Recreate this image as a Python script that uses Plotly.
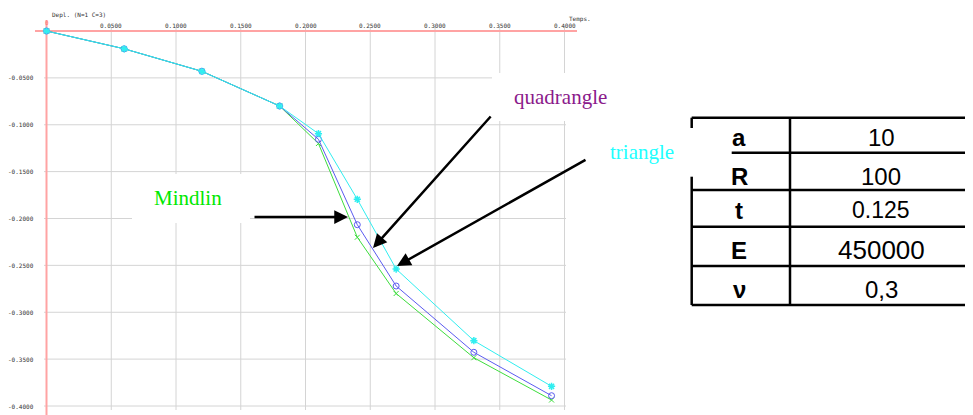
import plotly.graph_objects as go

# ---------------- data ----------------
temps = [0.0, 0.06, 0.12, 0.18, 0.21, 0.24, 0.27, 0.33, 0.39]
mindlin = [0.0, -0.019, -0.043, -0.080, -0.120, -0.220, -0.280, -0.3485, -0.3936]
quadrangle = [0.0, -0.019, -0.043, -0.080, -0.1155, -0.2066, -0.272, -0.3427, -0.389]
triangle = [0.0, -0.019, -0.043, -0.080, -0.1095, -0.1795, -0.2539, -0.3303, -0.379]

x_ticks = [0.05, 0.10, 0.15, 0.20, 0.25, 0.30, 0.35, 0.40]
x_tick_labels = ["0.0500", "0.1000", "0.1500", "0.2000", "0.2500", "0.3000", "0.3500", "0.4000"]
y_ticks = [-0.05, -0.10, -0.15, -0.20, -0.25, -0.30, -0.35, -0.40]
y_tick_labels = ["-0.0500", "-0.1000", "-0.1500", "-0.2000", "-0.2500", "-0.3000", "-0.3500", "-0.4000"]

table_labels = ["a", "R", "t", "E", "\u03bd"]
table_values = ["10", "100", "0.125", "450000", "0,3"]

# ---------------- geometry helpers (reference-screen pixels) ----------------
SW, SH = 973, 415          # screen size
OFF = 8                    # page body margin around the plot div
W, H = SW - OFF, SH - OFF  # figure size
X0PX, XSCALE = 46.5, 1295.0
Y0PX, YSCALE = 31.0, 937.5


def px2x(px):
    return (px - X0PX) / XSCALE


def py2y(py):
    return -(py - Y0PX) / YSCALE


def pxp(px):
    return (px - OFF) / W


def pyp(py):
    return 1 - (py - OFF) / H


fig = go.Figure()

fig.add_trace(go.Scatter(x=temps, y=mindlin, mode="lines+markers", name="Mindlin",
                         line=dict(color="#3ddd3d", width=1),
                         marker=dict(symbol="x-thin-open", size=5, line=dict(color="#3ddd3d", width=1))))
fig.add_trace(go.Scatter(x=temps, y=quadrangle, mode="lines+markers", name="quadrangle",
                         line=dict(color="#5b5bf0", width=1),
                         marker=dict(symbol="circle-open", size=6, color="#5b5bf0", line=dict(width=1))))
fig.add_trace(go.Scatter(x=temps, y=triangle, mode="lines+markers", name="triangle",
                         line=dict(color="#30eef0", width=1),
                         marker=dict(symbol="asterisk-open", size=6, line=dict(color="#22e0f0", width=1.5))))

shapes = []
grid = dict(color="#d4d4d4", width=1)
for xv in x_ticks:
    shapes.append(dict(type="line", xref="x", yref="y", x0=xv, x1=xv,
                       y0=py2y(27), y1=py2y(410), line=grid, layer="below"))
for yv in y_ticks:
    shapes.append(dict(type="line", xref="x", yref="y", x0=px2x(44), x1=px2x(566),
                       y0=yv, y1=yv, line=grid, layer="below"))
# white label boxes hiding the grid
for (a, b, c, d) in [(132, 174, 250, 223), (492, 73, 640, 121), (598, 133, 690, 176)]:
    shapes.append(dict(type="rect", xref="x", yref="y", x0=px2x(a), x1=px2x(c),
                       y0=py2y(b), y1=py2y(d), fillcolor="white", line=dict(width=0), layer="below"))
# red axes
red = dict(color="#ffa3a3", width=2)
shapes.append(dict(type="line", xref="x", yref="y", x0=px2x(35), x1=px2x(577), y0=0, y1=0, line=red, layer="below"))
shapes.append(dict(type="line", xref="x", yref="y", x0=0, x1=0, y0=py2y(20), y1=py2y(415), line=red, layer="below"))

# table lines
blk = dict(color="black", width=2.5)
tl, tm, tr = 691.7, 790, 973
rows = [117.7, 152.7, 190, 226.7, 266, 305]
for i, ry in enumerate(rows):
    xs = 731.7 if i == 1 else tl
    shapes.append(dict(type="line", xref="paper", yref="paper", x0=pxp(xs), x1=pxp(tr),
                       y0=pyp(ry), y1=pyp(ry), line=blk))
shapes.append(dict(type="line", xref="paper", yref="paper", x0=pxp(tm), x1=pxp(tm),
                   y0=pyp(rows[0]), y1=pyp(rows[-1]), line=blk))
shapes.append(dict(type="line", xref="paper", yref="paper", x0=pxp(tl), x1=pxp(tl),
                   y0=pyp(rows[0]), y1=pyp(128), line=blk))
shapes.append(dict(type="line", xref="paper", yref="paper", x0=pxp(tl), x1=pxp(tl),
                   y0=pyp(176.7), y1=pyp(rows[-1]), line=blk))

annotations = []
tick_font = dict(family="DejaVu Sans Mono", size=6, color="#333333")
for xv, lab in zip(x_ticks, x_tick_labels):
    annotations.append(dict(x=xv, y=py2y(25), xref="x", yref="y", text=lab, showarrow=False,
                            font=tick_font, xanchor="center", yanchor="middle"))
for yv, lab in zip(y_ticks, y_tick_labels):
    annotations.append(dict(x=px2x(36), y=yv, xref="x", yref="y", text=lab, showarrow=False,
                            font=tick_font, xanchor="right", yanchor="middle"))
annotations.append(dict(x=pxp(50), y=pyp(8.5), xref="paper", yref="paper", text="Depl. (N=1 C=3)",
                        showarrow=False, font=tick_font, xanchor="left", yanchor="top"))
annotations.append(dict(x=pxp(567), y=pyp(19), xref="paper", yref="paper", text="Temps.",
                        showarrow=False, font=tick_font, xanchor="left", yanchor="middle"))
annotations.append(dict(x=0, y=py2y(22), xref="x", yref="y", text="0", showarrow=False,
                        font=dict(family="DejaVu Sans Mono", size=6, color="#ff7070"),
                        xanchor="center", yanchor="middle"))

serif = "Liberation Serif, Times New Roman, serif"
annotations.append(dict(x=pxp(152), y=pyp(198), xref="paper", yref="paper", text="Mindlin", showarrow=False,
                        font=dict(family=serif, size=21, color="#00e800"), xanchor="left", yanchor="middle"))
annotations.append(dict(x=pxp(512), y=pyp(97), xref="paper", yref="paper", text="quadrangle", showarrow=False,
                        font=dict(family=serif, size=21, color="#8b1a8b"), xanchor="left", yanchor="middle"))
annotations.append(dict(x=pxp(607.5), y=pyp(152), xref="paper", yref="paper", text="triangle", showarrow=False,
                        font=dict(family=serif, size=21, color="#22ffff"), xanchor="left", yanchor="middle"))

# arrows (tail -> head)
for (tx, ty, hx, hy) in [(253, 217, 348, 217), (492, 115, 373, 248), (587, 159, 397, 266)]:
    annotations.append(dict(x=px2x(hx), y=py2y(hy), ax=px2x(tx), ay=py2y(ty), xref="x", yref="y",
                            axref="x", ayref="y", text="", showarrow=True, arrowhead=2,
                            arrowsize=1.1, arrowwidth=2.5, arrowcolor="black"))

# table texts
label_centers = [137.5, 176, 210, 250, 289]
value_sizes = [24, 24, 23, 26, 24]
for lab, val, cy, fs in zip(table_labels, table_values, label_centers, value_sizes):
    annotations.append(dict(x=pxp(739), y=pyp(cy), xref="paper", yref="paper", text="<b>%s</b>" % lab,
                            showarrow=False, font=dict(family="Liberation Sans, Arial", size=24, color="black"),
                            xanchor="center", yanchor="middle"))
    annotations.append(dict(x=pxp(881), y=pyp(cy), xref="paper", yref="paper", text=val,
                            showarrow=False, font=dict(family="Liberation Sans, Arial", size=fs, color="black"),
                            xanchor="center", yanchor="middle"))

fig.update_layout(
    width=W, height=H,
    margin=dict(l=0, r=0, t=0, b=0),
    paper_bgcolor="white", plot_bgcolor="white",
    showlegend=False,
    xaxis=dict(range=[px2x(OFF), px2x(SW)], visible=False, fixedrange=True),
    yaxis=dict(range=[py2y(SH), py2y(OFF)], visible=False, fixedrange=True),
    shapes=shapes, annotations=annotations,
)

fig.write_html("out.html")
